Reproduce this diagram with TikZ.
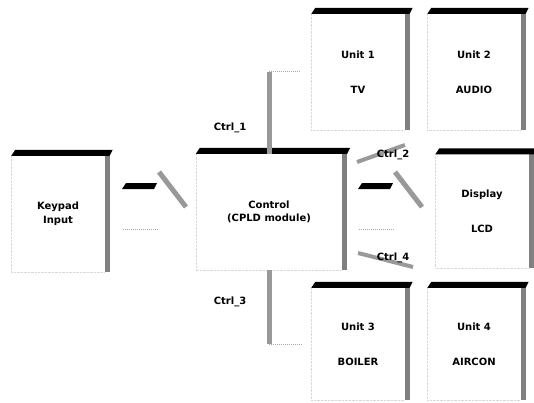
\documentclass[tikz,border=0pt]{standalone}
\usepackage{fontspec}
\setmainfont{DejaVu Sans}
\tikzset{
  box/.style={rectangle, inner sep=0pt, minimum width=93pt, minimum height=116pt, align=center, font=\bfseries},
  side/.style={fill=black!50},
  rim/.style={draw=black!15, densely dotted},
  link/.style={draw=black!40, line width=5pt},
  faint/.style={draw=black!35, densely dotted, line width=1pt},
  tag/.style={font=\bfseries},
}
\begin{document}
\begin{tikzpicture}[x=1pt, y=-1pt]
  \useasboundingbox (0,0) rectangle (534,403);

  \node[box] (keypad) at (58,214) {Keypad\\[2pt]Input};
  \node[box, minimum width=146pt] (control) at (269,212) {Control\\[1pt](CPLD module)};
  \node[box] (unit1) at (358,72) {Unit 1\\[23pt]TV};
  \node[box] (unit2) at (474,72) {Unit 2\\[23pt]AUDIO};
  \node[box, minimum height=113pt] (display) at (482,211) {Display\\[23pt]LCD};
  \node[box, minimum height=112pt] (unit3) at (358,344) {Unit 3\\[23pt]BOILER};
  \node[box, minimum height=112pt] (unit4) at (474,344) {Unit 4\\[23pt]AIRCON};

  % 3d look of the boxes
  \foreach \n in {keypad, control, unit1, unit2, display, unit3, unit4} {
    \draw[rim] (\n.north west) -- (\n.south west) -- (\n.south east);
    \fill[side] (\n.north east) rectangle ([xshift=5pt]\n.south east);
    \fill (\n.north west) -- ([xshift=5pt]\n.north east) -- ([xshift=8pt,yshift=6pt]\n.north east) -- ([xshift=4pt,yshift=6pt]\n.north west) -- cycle;
  }

  % block arrows
  \foreach \x in {122, 358} {
    \fill (\x,189) -- (\x+32,189) -- (\x+35,183) -- (\x+4,183) -- cycle;
    \draw[link] (\x+37,172) -- (\x+64,207);
    \draw[faint] (\x+1,229) -- (\x+36,229);
  }

  % control lines
  \coordinate (c1) at (control.north |- unit1.west);
  \coordinate (c3) at (control.south |- unit3.west);
  \draw[link] (control.north) -- (c1);
  \draw[faint] (c1) -- ([xshift=-12pt]unit1.west);
  \draw[link] (control.south) -- (c3);
  \draw[faint] (c3) -- ([xshift=-10pt]unit3.west);
  \node[tag] (ctrl1) at (230,128) {Ctrl\_1};
  \node[tag] (ctrl3) at (230,302) {Ctrl\_3};

  \coordinate (c2a) at (357,162);
  \coordinate (c2b) at (405,145);
  \coordinate (c4a) at (358,253);
  \coordinate (c4b) at (413,267);
  \draw[link, line width=4pt] (c2a) -- (c2b);
  \draw[link, line width=4pt] (c4a) -- (c4b);
  \node[tag] (ctrl2) at (393,155) {Ctrl\_2};
  \node[tag] (ctrl4) at (393,258) {Ctrl\_4};
\end{tikzpicture}
\end{document}
